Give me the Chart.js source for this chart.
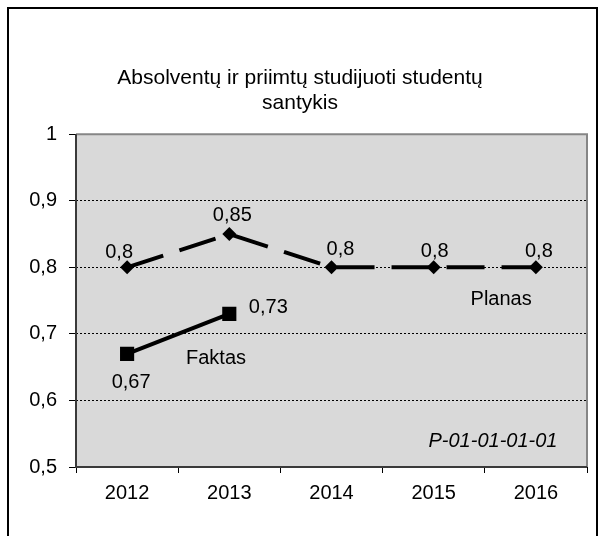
<!DOCTYPE html>
<html>
<head>
<meta charset="utf-8">
<script src="https://cdn.jsdelivr.net/npm/chart.js@4"></script>
<style>
  html, body { margin: 0; padding: 0; background: #ffffff; }
  #wrap { width: 606px; height: 536px; position: relative; }
</style>
</head>
<body>
<div id="wrap"><canvas id="c" width="606" height="536"></canvas></div>
<script>
// ---- data ----
const categories = ['2012', '2013', '2014', '2015', '2016'];
const planas = [0.8, 0.85, 0.8, 0.8, 0.8];
const faktas = [0.67, 0.73, null, null, null];
const yTickValues = [0.5, 0.6, 0.7, 0.8, 0.9, 1];
const yTickLabels = ['0,5', '0,6', '0,7', '0,8', '0,9', '1'];
const titleLines = ['Absolventų ir priimtų studijuoti studentų', 'santykis'];
const seriesNames = ['Planas', 'Faktas'];
const codeText = 'P-01-01-01-01';

const FONT = '"Liberation Sans", Arial, sans-serif';
const fmt = v => String(v).replace('.', ',');

// label offsets (px) relative to each point, per dataset
const labelOffsets = [
  [[-8, -15], [3, -19], [9, -18], [1, -16], [3, -16]],
  [[4, 29], [39, -6]]
];

const framePlugin = {
  id: 'frame',
  beforeDraw(chart) {
    const { ctx, chartArea: a } = chart;
    ctx.save();
    ctx.fillStyle = '#ffffff';
    ctx.fillRect(0, 0, chart.width, chart.height);
    ctx.fillStyle = '#d9d9d9';
    ctx.fillRect(a.left, a.top, a.right - a.left, a.bottom - a.top);
    // outer border
    ctx.strokeStyle = '#000000';
    ctx.lineWidth = 2;
    ctx.strokeRect(8, 8, 589, 600);
    ctx.restore();
  },
  beforeDatasetsDraw(chart) {
    const { ctx, chartArea: a } = chart;
    ctx.save();
    ctx.lineWidth = 2;
    ctx.strokeStyle = '#868686';
    ctx.beginPath();
    ctx.moveTo(a.left, a.top);
    ctx.lineTo(a.right, a.top);
    ctx.lineTo(a.right, a.bottom);
    ctx.stroke();
    ctx.strokeStyle = '#3a3a3a';
    ctx.beginPath();
    ctx.moveTo(a.left, a.top);
    ctx.lineTo(a.left, a.bottom);
    ctx.lineTo(a.right, a.bottom);
    ctx.stroke();
    ctx.restore();
  },
  afterDatasetsDraw(chart) {
    const { ctx } = chart;
    ctx.save();
    ctx.fillStyle = '#000000';
    ctx.font = '20px ' + FONT;
    ctx.textAlign = 'center';
    ctx.textBaseline = 'middle';
    chart.data.datasets.forEach((ds, di) => {
      const meta = chart.getDatasetMeta(di);
      meta.data.forEach((pt, i) => {
        const v = ds.data[i];
        if (v === null || v === undefined) return;
        const off = labelOffsets[di][i] || [0, -16];
        ctx.fillText(fmt(v), pt.x + off[0], pt.y + off[1]);
      });
    });
    const xs = chart.scales.x, ys = chart.scales.y;
    // series name labels
    ctx.fillText(seriesNames[1], xs.getPixelForValue(0.87), ys.getPixelForValue(0.663));
    ctx.fillText(seriesNames[0], xs.getPixelForValue(3.66), ys.getPixelForValue(0.752));
    ctx.font = 'italic 20px ' + FONT;
    ctx.fillText(codeText, xs.getPixelForValue(3.58), ys.getPixelForValue(0.538));
    ctx.restore();
  }
};

new Chart(document.getElementById('c'), {
  type: 'line',
  data: {
    labels: categories,
    datasets: [
      {
        label: seriesNames[0],
        data: planas,
        borderColor: '#000000',
        backgroundColor: '#000000',
        borderWidth: 4,
        borderDash: [38, 17],
        pointStyle: 'rectRot',
        pointRadius: 7,
        pointBorderWidth: 0,
        tension: 0
      },
      {
        label: seriesNames[1],
        data: faktas,
        borderColor: '#000000',
        backgroundColor: '#000000',
        borderWidth: 4,
        pointStyle: 'rect',
        pointRadius: 10,
        pointBorderWidth: 0,
        tension: 0,
        spanGaps: false
      }
    ]
  },
  options: {
    responsive: false,
    animation: false,
    devicePixelRatio: 1,
    layout: { padding: { left: 13, right: 19, top: 0, bottom: 29 } },
    plugins: {
      legend: { display: false },
      tooltip: { enabled: false },
      title: {
        display: true,
        text: titleLines,
        color: '#000000',
        font: { family: FONT, size: 21, weight: 'normal', lineHeight: 1.22 },
        padding: { top: 65, bottom: 18 }
      }
    },
    scales: {
      x: {
        type: 'category',
        offset: true,
        grid: {
          display: true,
          drawOnChartArea: false,
          drawTicks: true,
          tickLength: 6,
          offset: true,
          tickColor: '#000000',
          tickWidth: 1
        },
        border: { display: false },
        ticks: {
          color: '#000000',
          font: { family: FONT, size: 20 },
          padding: 8,
          maxRotation: 0
        },
        afterFit(scale) { scale.height = 40; }
      },
      y: {
        min: 0.5,
        max: 1,
        afterBuildTicks(scale) { scale.ticks = yTickValues.map(v => ({ value: v })); },
        grid: {
          color: '#000000',
          lineWidth: 1,
          drawTicks: true,
          tickLength: 7,
          tickColor: '#000000',
          tickWidth: 1,
          tickBorderDash: []
        },
        border: { display: false, dash: [2, 2] },
        ticks: {
          color: '#000000',
          font: { family: FONT, size: 20 },
          padding: 12,
          callback: (v, i) => yTickLabels[i]
        },
        afterFit(scale) { scale.width = 63; }
      }
    }
  },
  plugins: [framePlugin]
});
</script>
</body>
</html>
